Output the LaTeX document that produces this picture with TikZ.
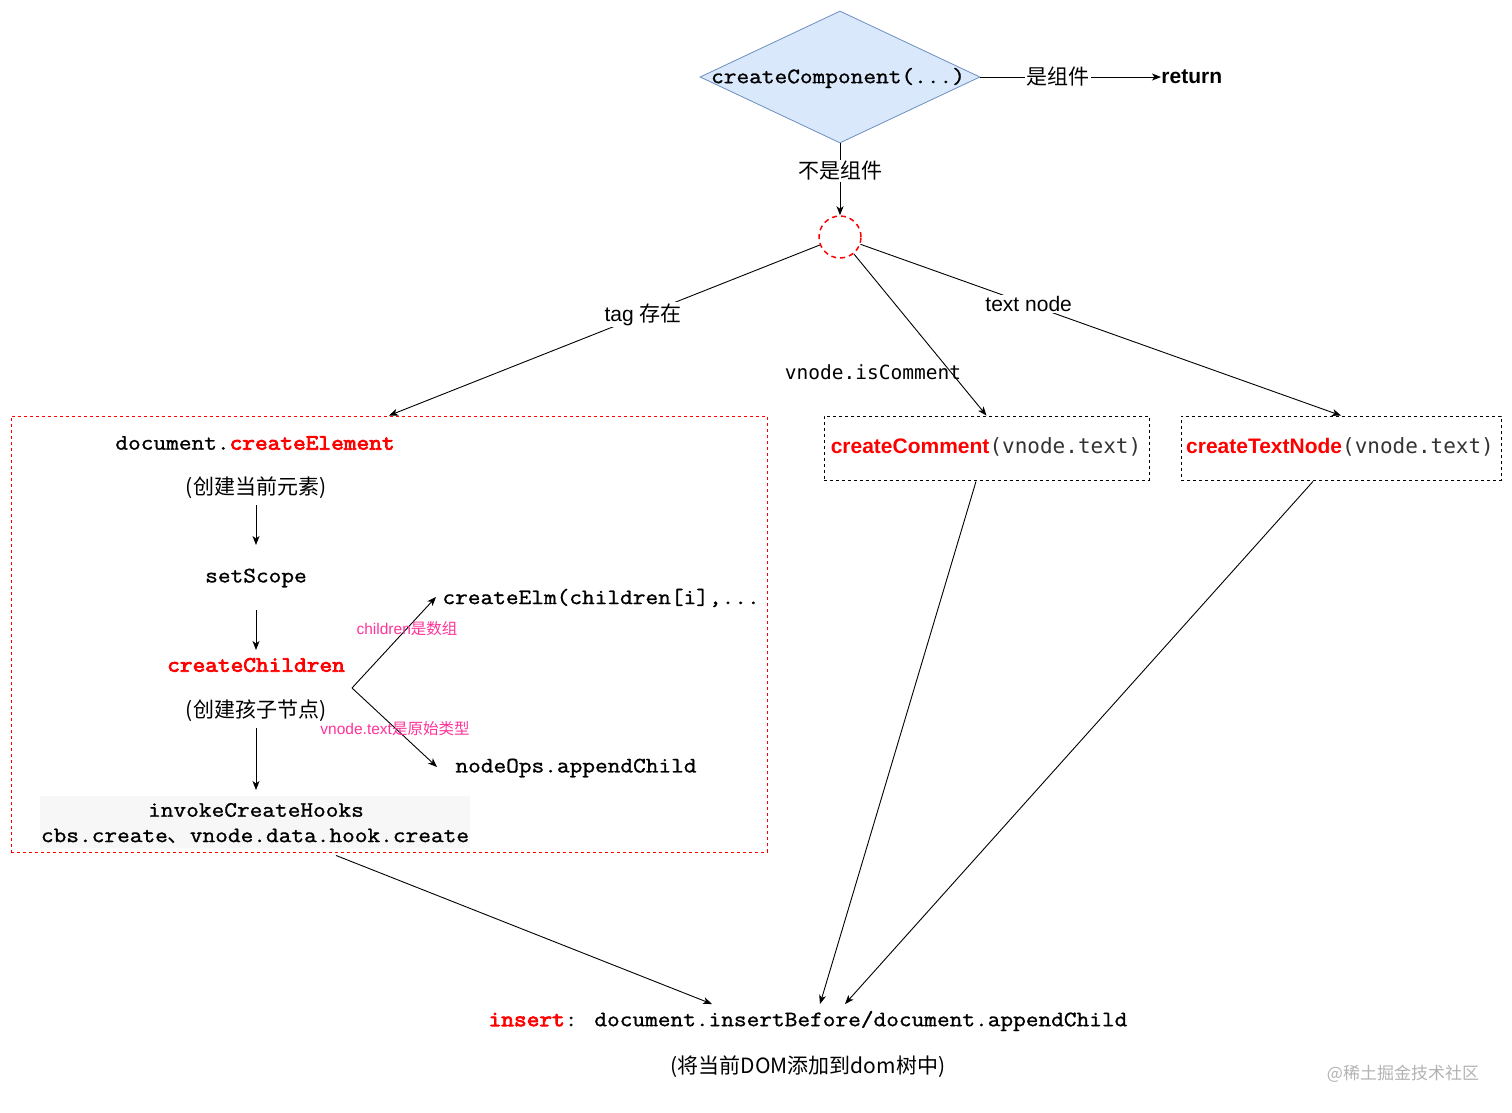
\documentclass[tikz,border=0pt]{standalone}
\usepackage{fontspec}
\setmainfont{Liberation Sans}
\newfontfamily\cjk{Noto Sans CJK SC}
\newfontfamily\cour{Latin Modern Mono}[FakeStretch=1.12,FakeBold=1.2]
\newfontfamily\courbf{Latin Modern Mono}[FakeStretch=1.12,FakeBold=3.5]
\newfontfamily\menlo{DejaVu Sans Mono}
\usetikzlibrary{shapes.geometric,arrows.meta,calc}
\definecolor{dfill}{HTML}{DAE8FC}
\definecolor{dline}{HTML}{6C8EBF}
\definecolor{lblpink}{HTML}{FF3399}
\definecolor{hookgray}{HTML}{F7F7F7}
\definecolor{codegray}{HTML}{333333}
\newcommand\monoT{\cour\fontsize{22}{26}\selectfont}
\newcommand\monoB{\courbf\fontsize{22}{26}\selectfont\color{red}}
\newcommand\cjkT{\cjk\fontsize{21}{25}\selectfont}
\newcommand\sansT{\fontsize{21}{25}\selectfont}
\newcommand\sansBr{\fontsize{21}{25}\selectfont\bfseries\color{red}}
\newcommand\menloT{\menlo\fontsize{21}{25}\selectfont\color{codegray}}
\begin{document}
\begin{tikzpicture}[x=1pt,y=-1pt,
  >={Stealth[length=9pt,width=7pt,inset=2.5pt]},
  line width=0.9pt,
  txt/.style={inner sep=0pt},
  lbl/.style={fill=white,inner sep=1.5pt},
  pinklbl/.style={inner sep=0pt,text=lblpink,font=\fontsize{15.5}{18}\selectfont},
  dashbox/.style={draw,dash pattern=on 3pt off 3pt,inner sep=0pt,line width=0.9pt},
  reddot/.style={draw=red,dash pattern=on 3pt off 3pt,inner sep=0pt,line width=0.9pt}]
\useasboundingbox (0,0) rectangle (1512,1113);

% decision
\node[diamond,fill=dfill,draw=dline,line width=0.8pt,inner sep=0pt,
      minimum width=280pt,minimum height=132pt] (dia) at (840,77) {};
\node[txt] (cc) at (838,78) {\monoT createComponent(...)};
\node[txt,anchor=west] (ret) at (1161,77) {\sansT\bfseries return};
\draw[->] (dia.east) -- node[lbl,pos=0.43]{\cjkT 是组件} (ret.west);

\node[circle,draw=red,line width=1.5pt,dash pattern=on 5pt off 4pt,
      minimum size=42pt,inner sep=0pt] (c) at (840,237) {};
\draw[->] (dia.south) -- node[lbl,pos=0.38]{\cjkT 不是组件} (c.north);

% boxes
\node[reddot,minimum width=756pt,minimum height=436pt] (lbox) at (389,634) {};
\node[dashbox,minimum width=325pt,minimum height=64pt] (cbox) at (986.5,448) {};
\node[dashbox,minimum width=320pt,minimum height=64pt] (tbox) at (1341,448) {};
\node[txt] (ctext) at (986,447) {{\sansBr createComment}{\menloT(vnode.text)}};
\node[txt] (ttext) at (1340,447) {{\sansBr createTextNode}{\menloT(vnode.text)}};

\draw[->] (c) -- node[lbl,pos=0.41]{\sansT tag \cjk 存在} (lbox.north);
\draw[->] (c) -- (cbox.north);
\node[txt] (iscom) at (873,372) {\menlo\fontsize{19.5}{23}\selectfont vnode.isComment};
\draw[->] (c) -- node[lbl,pos=0.35]{\sansT text node} (tbox.north);

% inside left box
\node[txt] (de) at (255,443) {{\monoT document.}{\monoB createElement}};
\node[txt] (de2) at (256,488) {\cjkT (创建当前元素)};
\node[txt] (ss) at (256,578) {\monoT setScope};
\node[txt] (cch) at (256,665) {\monoB createChildren};
\node[txt] (cch2) at (256,711) {\cjkT (创建孩子节点)};
\node[fill=hookgray,inner sep=0pt,minimum width=430pt,minimum height=52pt] (hooks) at (255,822) {};
\node[txt] (h1) at (256,810) {\monoT invokeCreateHooks};
\node[txt] (h2) at (255,836) {\monoT cbs.create{\cjk 、}vnode.data.hook.create};

\draw[->] ($(de2)+(0,17)$) -- ($(ss)+(0,-33)$);
\draw[->] ($(ss)+(0,32)$) -- ($(cch)+(0,-15)$);
\draw[->] ($(cch2)+(0,17)$) -- ($(h1)+(0,-20)$);

\coordinate (br) at (352,688);
\node[txt,anchor=west] (elm) at (442,598) {\monoT createElm(children[i],...};
\node[txt,anchor=west] (app) at (455,768) {\monoT nodeOps.appendChild};
\draw[->] (br) -- ($(elm.west)+(-6,-1)$);
\draw[->] (br) -- ($(app.west)+(-18,-1)$);
\node[pinklbl] (pl1) at (407,629) {children\cjk 是数组};
\node[pinklbl] (pl2) at (395,729) {vnode.text\cjk 是原始类型};

% insert
\node[txt] (ins) at (808,1021) {{\monoB insert}{\monoT : document.insertBefore/document.appendChild}};
\node[txt] (ins2) at (808,1067) {\cjkT (将当前DOM添加到dom树中)};
\draw[->] ($(lbox.south)+(-53,3)$) -- ($(ins)+(-96,-17)$);
\draw[->] ($(cbox.south)+(-10.5,1)$) -- ($(ins)+(12,-17)$);
\draw[->] ($(tbox.south)+(-28,1)$) -- ($(ins)+(37,-17)$);

\node[txt] (wm) at (1403,1074) {\cjk\fontsize{17}{20}\selectfont\color{black!30}@稀土掘金技术社区};
\end{tikzpicture}
\end{document}
